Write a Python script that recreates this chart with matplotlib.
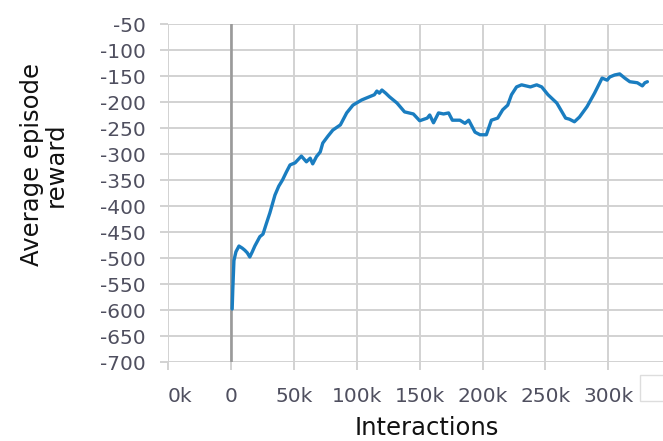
import matplotlib
matplotlib.use("Agg")
import matplotlib.pyplot as plt
from matplotlib.patches import Rectangle

# Training curve: interactions (thousands) vs. average episode reward
interactions_k = [1, 1.5, 2.4, 4, 6.4, 9, 11, 13, 15, 17, 19, 21, 23, 25.5, 28, 31, 35, 38, 41,
                  44, 47, 51, 56, 60, 63, 65, 68, 71, 73, 77, 81, 84, 87, 92, 97, 104, 110,
                  114, 116, 118, 120, 123, 126, 132, 138, 145, 150, 156, 158, 161, 165, 169,
                  173, 176, 182, 186, 189, 194, 198, 203, 207, 212, 216, 220, 223, 227, 231,
                  238, 243, 247, 252, 259, 266, 269, 273, 277, 283, 289, 295, 299, 301, 305,
                  309, 313, 317, 323, 327, 329, 331]
reward = [-598, -560, -505, -488, -477, -481, -485, -490, -498, -488, -477, -468, -459, -454,
          -435, -413, -379, -362, -350, -335, -321, -317, -304, -315, -308, -319, -305, -296,
          -279, -266, -254, -249, -244, -221, -206, -196, -190, -186, -179, -183, -177, -183,
          -190, -202, -219, -223, -236, -231, -225, -240, -221, -223, -221, -235, -235, -241,
          -235, -258, -263, -263, -235, -231, -215, -206, -186, -171, -167, -171, -167, -171,
          -186, -202, -231, -233, -238, -229, -209, -183, -154, -158, -152, -148, -146, -154,
          -161, -163, -169, -163, -161]

x_ticks = [-50, 0, 50, 100, 150, 200, 250, 300]
x_tick_labels = ["0k", "0", "50k", "100k", "150k", "200k", "250k", "300k"]
y_ticks = list(range(-700, 0, 50))
y_tick_labels = [str(v) for v in y_ticks]

W, H = 663, 441
fig = plt.figure(figsize=(W / 100, H / 100), dpi=100)
ax = fig.add_axes([168 / W, 1 - 362 / H, (663 - 168) / W, (362 - 24) / H])

grid_color = "#d2d2d2"
tick_color = "#4f4f5f"

ax.plot(interactions_k, reward, color="#1a7dc0", lw=2.4, solid_joinstyle="round",
        solid_capstyle="round", zorder=3)
ax.axvline(0, color="#9a9a9a", lw=1.9, zorder=2)

ax.set_xlim(-50, 343.4)
ax.set_ylim(-700, -50)
ax.set_xticks(x_ticks)
ax.set_xticklabels(x_tick_labels)
ax.set_yticks(y_ticks)
ax.set_yticklabels(y_tick_labels)
ax.grid(True, color=grid_color, lw=1.4, zorder=0)
for s in ax.spines.values():
    s.set_visible(False)
ax.tick_params(axis="both", colors=grid_color, width=1.4, length=6, labelsize=14.5,
               labelcolor=tick_color)
ax.tick_params(axis="x", pad=12)
ax.tick_params(axis="y", pad=10)
ax.get_xticklabels()[0].set_horizontalalignment("left")

fig.text(427 / W, 1 - 428 / H, "Interactions", ha="center", va="center",
         fontsize=17.5, color="#111111")
fig.text(44 / W, 1 - 165 / H, "Average episode\nreward", ha="center", va="center",
         rotation=90, fontsize=17.5, color="#111111", linespacing=1.0)

fig.patches.append(Rectangle((640 / W, 1 - 401 / H), 30 / W, 26 / H,
                             transform=fig.transFigure, facecolor="white",
                             edgecolor="#dddddd", lw=1.0))

fig.savefig("out.png", dpi=100)
